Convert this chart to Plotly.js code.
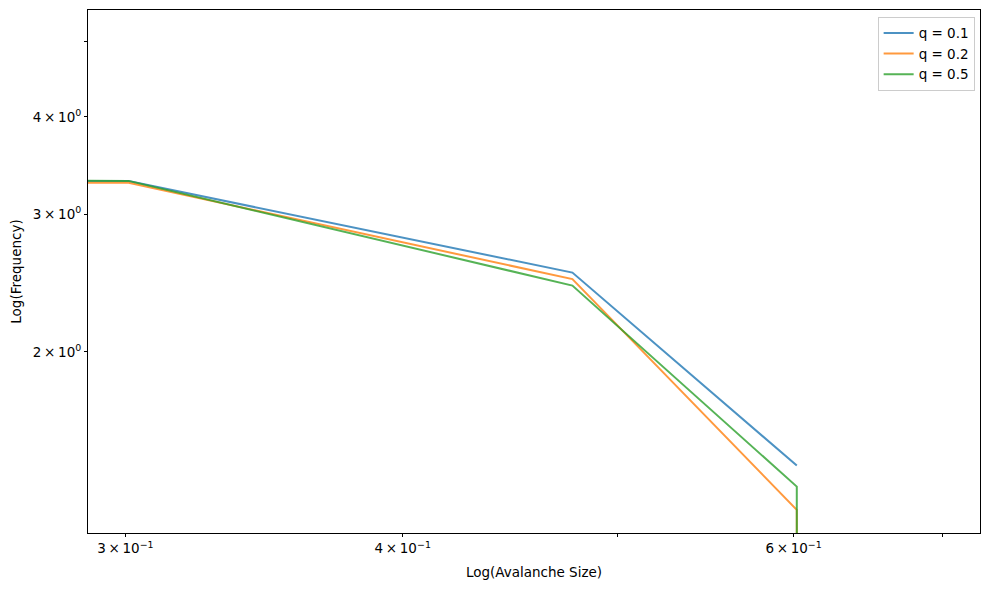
<!DOCTYPE html>
<html>
<head>
<meta charset="utf-8">
<script src="https://cdn.plot.ly/plotly-3.0.1.min.js"></script>
<style>
  html, body { margin: 0; padding: 0; background: #fff; }
  #chart { width: 989px; height: 590px; }
</style>
</head>
<body>
<div id="chart"></div>
<script>
// log10 of avalanche size (x) and log10 of frequency (y)
const logSize = [0, 0.301, 0.477, 0.602, 0.699];
const freqQ01 = [5.11, 3.31, 2.527, 1.430];
const freqQ02 = [5.11, 3.293, 2.479, 1.255, 0];
const freqQ05 = [5.11, 3.312, 2.432, 1.344, 0];
const names = ['q = 0.1', 'q = 0.2', 'q = 0.5'];
const colors = ['#1f77b4', '#ff7f0e', '#2ca02c'];

// matplotlib puts non-positive values on a log axis far off screen ("clip")
const clip = v => (v > 0 ? v : 1e-300);

const font = 'DejaVu Sans, sans-serif';
const sup = (m, e) => m + '\u2009\u00d7\u200910<sup>' + e + '</sup>';

const data = [freqQ01, freqQ02, freqQ05].map((ys, i) => ({
  x: logSize.slice(0, ys.length).map(clip),
  y: ys.map(clip),
  type: 'scatter',
  mode: 'lines',
  name: names[i],
  opacity: 0.8,
  line: {color: colors[i], width: 2}
}));

// labelled ticks and the unlabelled ones in between
const xTicks = [0.3, 0.4, 0.6];
const xText = [sup(3, '\u22121'), sup(4, '\u22121'), sup(6, '\u22121')];
const xMinor = [0.5, 0.7];
const yTicks = [2, 3, 4];
const yText = [sup(2, 0), sup(3, 0), sup(4, 0)];
const yMinor = [5];

const axisBase = {
  type: 'log',
  showgrid: false,
  zeroline: false,
  showline: true,
  mirror: true,
  linecolor: '#000',
  linewidth: 1,
  ticks: 'outside',
  ticklen: 3,
  tickwidth: 1,
  tickcolor: '#000',
  tickmode: 'array',
  tickfont: {family: font, size: 13.5, color: '#000'}
};

const minorBase = {ticks: 'outside', ticklen: 3, tickwidth: 1, tickcolor: '#000', tickmode: 'array', showgrid: false};

const layout = {
  width: 989,
  height: 590,
  paper_bgcolor: '#fff',
  plot_bgcolor: '#fff',
  margin: {l: 88, r: 9, t: 10, b: 57},
  font: {family: font, size: 13.5, color: '#000'},
  showlegend: true,
  legend: {
    x: 0.994, y: 0.987, xanchor: 'right', yanchor: 'top',
    bgcolor: 'rgba(255,255,255,0.8)',
    bordercolor: '#cccccc', borderwidth: 1,
    font: {family: font, size: 13.5, color: '#000'},
    tracegroupgap: 0
  },
  xaxis: Object.assign({}, axisBase, {
    range: [Math.log10(0.2886), Math.log10(0.728)],
    tickvals: xTicks,
    ticktext: xText,
    minor: Object.assign({tickvals: xMinor}, minorBase),
    title: {text: 'Log(Avalanche Size)', font: {family: font, size: 13.5}, standoff: 12}
  }),
  yaxis: Object.assign({}, axisBase, {
    range: [0.069, 0.739],
    tickvals: yTicks,
    ticktext: yText,
    minor: Object.assign({tickvals: yMinor}, minorBase),
    title: {text: 'Log(Frequency)', font: {family: font, size: 13.5}, standoff: 8}
  })
};

Plotly.newPlot('chart', data, layout, {displayModeBar: false, staticPlot: true});
</script>
</body>
</html>
